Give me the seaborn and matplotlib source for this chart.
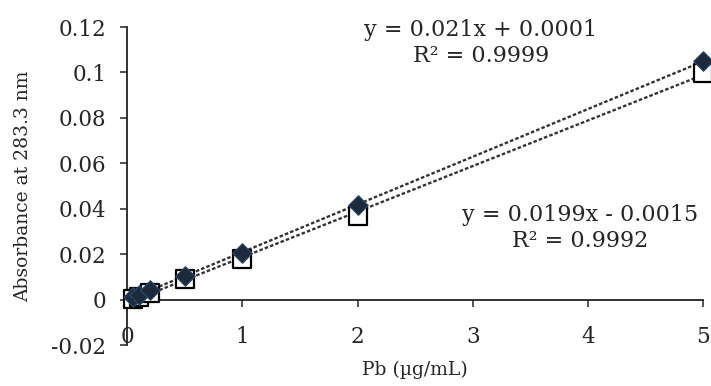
import numpy as np
import pandas as pd
import matplotlib
matplotlib.use("Agg")
import matplotlib.pyplot as plt
import seaborn as sns

# Pb standards (ug/mL) and absorbance at 283.3 nm
pb_conc = [0.05, 0.1, 0.2, 0.5, 1, 2, 5]
abs_diamond = [0.0012, 0.0022, 0.0043, 0.0102, 0.0207, 0.0418, 0.1050]
abs_square = [0.0005, 0.0010, 0.0028, 0.0090, 0.0180, 0.0368, 0.0998]

eq_diamond = "y = 0.021x + 0.0001\nR\u00b2 = 0.9999"
eq_square = "y = 0.0199x - 0.0015\nR\u00b2 = 0.9992"

y_ticks = [-0.02, 0, 0.02, 0.04, 0.06, 0.08, 0.1, 0.12]
y_labels = ["-0.02", "0", "0.02", "0.04", "0.06", "0.08", "0.1", "0.12"]
x_ticks = [0, 1, 2, 3, 4, 5]

df = pd.DataFrame({"pb": pb_conc, "dia": abs_diamond, "sq": abs_square})

sns.set_style("ticks")
plt.rcParams["font.family"] = ["DejaVu Serif"]

fig = plt.figure(figsize=(7.11, 3.86), dpi=100)
ax = fig.add_axes([0.179, 0.106, 0.810, 0.824])

line_kw = {"color": "#333333", "lw": 1.7, "ls": (0, (1.5, 0.9))}
sns.regplot(data=df, x="pb", y="dia", ci=None, scatter=False, truncate=True,
            line_kws=line_kw, ax=ax)
sns.regplot(data=df, x="pb", y="sq", ci=None, scatter=False, truncate=True,
            line_kws=line_kw, ax=ax)

sns.scatterplot(data=df, x="pb", y="sq", marker="s", s=180, facecolor="white",
                edgecolor="black", linewidth=1.6, ax=ax, clip_on=False, zorder=3)
sns.scatterplot(data=df, x="pb", y="dia", marker="D", s=100, color="#1c2a3c",
                edgecolor="#2d4a6e", linewidth=0.8, ax=ax, clip_on=False, zorder=4)

ax.set_xlim(0, 5)
ax.set_ylim(-0.02, 0.12)
ax.set_xticks(x_ticks)
ax.set_yticks(y_ticks)
ax.set_yticklabels(y_labels)

ax.spines["top"].set_visible(False)
ax.spines["right"].set_visible(False)
ax.spines["bottom"].set_position(("data", 0))
for sp in ["left", "bottom"]:
    ax.spines[sp].set_linewidth(1.3)
    ax.spines[sp].set_color("#222222")

ax.tick_params(axis="y", direction="out", length=5, width=1.1, labelsize=15.5, pad=10)
ax.tick_params(axis="x", direction="out", length=5, width=1.1, labelsize=15.5, pad=14)

ax.set_xlabel("Pb (\u00b5g/mL)", fontsize=13.5)
ax.set_ylabel("Absorbance at 283.3 nm", fontsize=13.5)
ax.xaxis.set_label_coords(0.5, -0.05)
ax.yaxis.set_label_coords(-0.165, 0.5)

ax.text(3.07, 0.1130, eq_diamond, ha="center", va="center", fontsize=16,
        multialignment="center", linespacing=1.25)
ax.text(3.93, 0.0315, eq_square, ha="center", va="center", fontsize=16,
        multialignment="center", linespacing=1.25)

fig.savefig("out.png", dpi=100)
